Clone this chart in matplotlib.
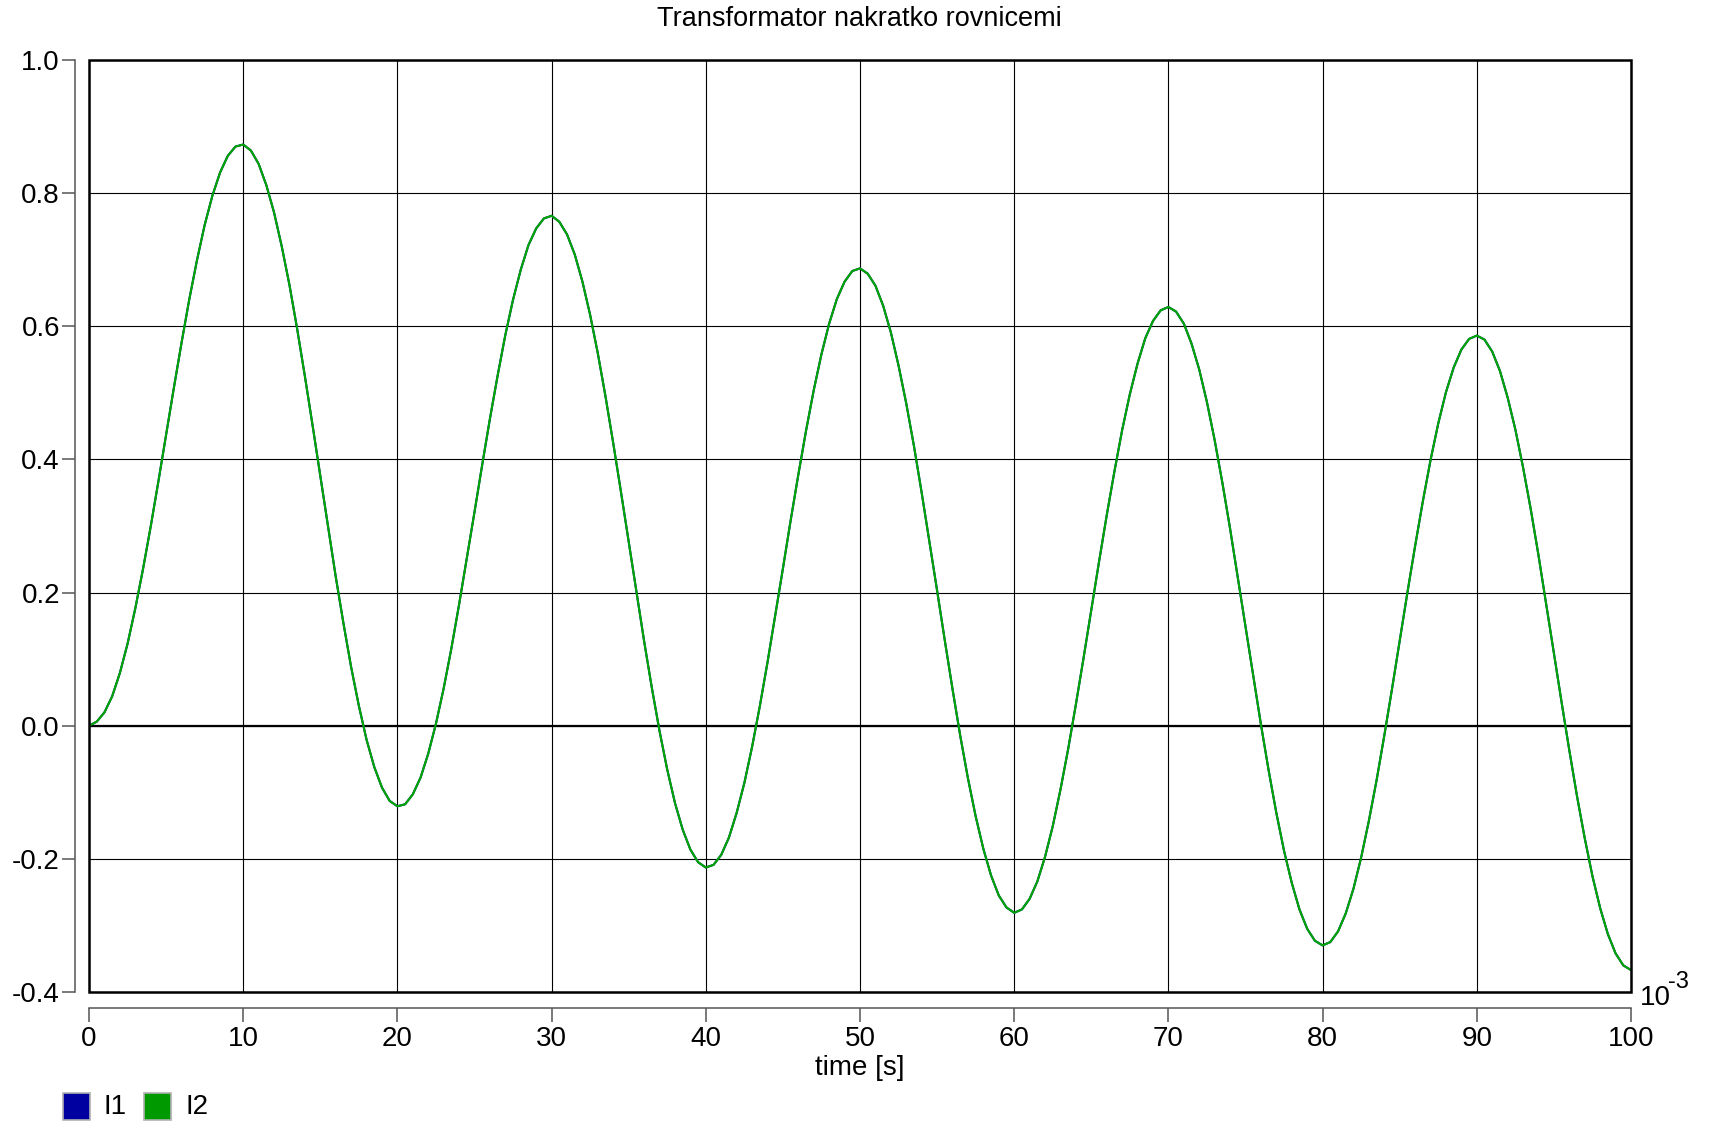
import matplotlib
matplotlib.use("Agg")
import matplotlib.pyplot as plt
from matplotlib.patches import Rectangle

plt.rcParams["font.family"] = ["Liberation Sans", "DejaVu Sans"]
plt.rcParams["axes.unicode_minus"] = False

# time in ms (axis shows 10^-3 s), read every 0.5 ms
time_ms = [k / 2 for k in range(201)]
i2 = [
    0.000, 0.006, 0.020, 0.044, 0.079, 0.123, 0.176, 0.235, 0.299, 0.367,
    0.437, 0.507, 0.575, 0.640, 0.699, 0.752, 0.796, 0.831, 0.856, 0.870,
    0.873, 0.864, 0.844, 0.812, 0.771, 0.720, 0.662, 0.596, 0.525, 0.451,
    0.375, 0.299, 0.224, 0.154, 0.088, 0.030, -0.021, -0.062, -0.093, -0.113,
    -0.121, -0.118, -0.103, -0.078, -0.042, 0.003, 0.056, 0.116, 0.182, 0.251,
    0.321, 0.392, 0.461, 0.526, 0.587, 0.640, 0.685, 0.722, 0.747, 0.762,
    0.766, 0.757, 0.738, 0.708, 0.667, 0.617, 0.559, 0.494, 0.424, 0.351,
    0.276, 0.200, 0.127, 0.057, -0.008, -0.066, -0.116, -0.156, -0.186, -0.205,
    -0.213, -0.209, -0.194, -0.168, -0.131, -0.086, -0.032, 0.029, 0.095, 0.165,
    0.236, 0.308, 0.377, 0.443, 0.504, 0.558, 0.604, 0.641, 0.667, 0.683,
    0.687, 0.679, 0.661, 0.631, 0.591, 0.541, 0.484, 0.420, 0.350, 0.277,
    0.203, 0.128, 0.055, -0.015, -0.079, -0.136, -0.185, -0.225, -0.255, -0.273,
    -0.281, -0.276, -0.260, -0.234, -0.197, -0.151, -0.096, -0.035, 0.032, 0.102,
    0.174, 0.246, 0.316, 0.382, 0.444, 0.498, 0.544, 0.582, 0.608, 0.624,
    0.629, 0.622, 0.604, 0.574, 0.535, 0.486, 0.429, 0.365, 0.296, 0.223,
    0.149, 0.075, 0.002, -0.067, -0.131, -0.188, -0.236, -0.276, -0.305, -0.323,
    -0.330, -0.325, -0.309, -0.282, -0.245, -0.198, -0.143, -0.082, -0.015, 0.055,
    0.128, 0.200, 0.270, 0.337, 0.399, 0.454, 0.501, 0.538, 0.565, 0.581,
    0.586, 0.580, 0.562, 0.533, 0.493, 0.445, 0.388, 0.325, 0.256, 0.183,
    0.109, 0.035, -0.037, -0.106, -0.169, -0.226, -0.274, -0.313, -0.342, -0.360,
    -0.367,
]
i1 = i2  # I1 lies under I2

series_names = ["I1", "I2"]
series_colors = ["#0000a0", "#00a800"]
legend_colors = ["#0000a0", "#009900"]

xticks = list(range(0, 101, 10))
yticks = [-0.4, -0.2, 0.0, 0.2, 0.4, 0.6, 0.8, 1.0]

W, H = 1711, 1121
fig = plt.figure(figsize=(W / 100, H / 100), dpi=100)
ax = fig.add_axes([89 / W, 1 - 992 / H, (1631 - 89) / W, (992 - 60) / H])

ax.plot(time_ms, i1, color=series_colors[0], lw=1.5, zorder=3)
ax.plot(time_ms, i2, color=series_colors[1], lw=1.5, zorder=4)

ax.set_xlim(0, 100)
ax.set_ylim(-0.4, 1.0)
ax.set_xticks(xticks)
ax.set_yticks(yticks)
ax.set_yticklabels(["%.1f" % v for v in yticks])
ax.grid(True, color="black", lw=0.8)
ax.axhline(0, color="black", lw=1.6, zorder=2)

for s in ["top", "right"]:
    ax.spines[s].set_visible(False)
ax.spines["left"].set_position(("outward", 10))
ax.spines["bottom"].set_position(("outward", 11.5))
for s in ["left", "bottom"]:
    ax.spines[s].set_color("#555555")
    ax.spines[s].set_linewidth(1.1)
ax.tick_params(axis="y", length=9.4, width=1.1, color="#555555", pad=1.5, labelsize=20)
ax.tick_params(axis="x", length=10, width=1.1, color="#555555", pad=3, labelsize=20)

ax.add_patch(Rectangle((0, 0), 1, 1, transform=ax.transAxes, fill=False,
                       ec="black", lw=1.8, clip_on=False, zorder=5))

ax.set_xlabel("time [s]", fontsize=20, labelpad=2)

# exponent of the time axis
fig.text(1640 / W, 1 - 1005 / H, "10", fontsize=20, ha="left", va="baseline")
fig.text(1668 / W, 1 - 988 / H, "-3", fontsize=17, ha="left", va="baseline")

fig.text(859 / W, 1 - 19 / H, "Transformator nakratko rovnicemi",
         fontsize=19.5, ha="center", va="center")

# legend
box_x = [63, 144]
for name, col, bx in zip(series_names, legend_colors, box_x):
    fig.add_artist(Rectangle((bx / W, 1 - 1120 / H), 27 / W, 27 / H,
                             transform=fig.transFigure, fc=col, ec="#b0b0b0", lw=1.2))
    fig.text((bx + 41) / W, 1 - 1107 / H, name, fontsize=20, ha="left", va="center")

fig.savefig("out.png", dpi=100)
plt.close(fig)
